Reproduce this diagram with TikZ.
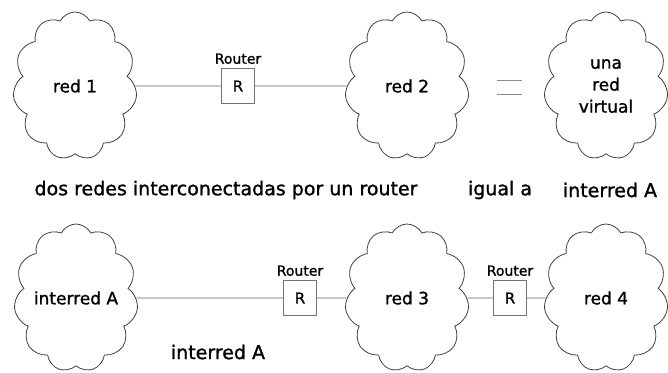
\documentclass[tikz,border=0pt]{standalone}
\usepackage{fontspec}
\setmainfont[FakeBold=1.2]{DejaVu Sans}
\usetikzlibrary{shapes.symbols,positioning}
\begin{document}
\begin{tikzpicture}[x=1pt,y=-1pt,
	red/.style={draw=black!75, line width=0.8pt, cloud, cloud puffs=11, cloud puff arc=125,
		cloud ignores aspect, minimum width=124pt, minimum height=148pt, inner sep=0pt,
		font=\fontsize{17}{22}\selectfont, align=center},
	router/.style={draw=black!55, line width=0.8pt, minimum width=33pt, minimum height=35pt,
		inner sep=0pt, font=\fontsize{15}{18}\selectfont},
	etiq/.style={font=\fontsize{14}{17}\selectfont, inner sep=1pt},
	texto/.style={font=\fontsize{19}{22}\selectfont},
	enlace/.style={draw=black!60, line width=0.8pt}
	]
	\useasboundingbox (0,0) rectangle (668,372);
	% fila de arriba
	\node [red] (red1) at (75,86) {red 1};
	\node [router] (r1) at (238,86) {R};
	\node [etiq, above=3pt of r1] (et1) {Router};
	\node [red] (red2) at (407,86) {red 2};
	\node [red] (virt) at (606,86) {una\\red\\virtual};
	\draw [enlace] (red1) -- (r1) -- (red2);
	\draw [black!45, line width=0.8pt] (497,80) -- (522,80) (497,94) -- (522,94);
	\node [texto] (dos) at (226,190) {dos redes interconectadas por un router};
	\node [texto] (igual) at (500,190) {igual a};
	\node [texto] (inter) at (610,190) {interred A};
	% fila de abajo
	\node [red] (intA) at (76,298) {interred A};
	\node [router] (r2) at (300,298) {R};
	\node [etiq, above=3pt of r2] (et2) {Router};
	\node [red] (red3) at (407,298) {red 3};
	\node [router] (r3) at (510,298) {R};
	\node [etiq, above=3pt of r3] (et3) {Router};
	\node [red] (red4) at (606,298) {red 4};
	\draw [enlace] (intA) -- (r2) -- (red3) -- (r3) -- (red4);
	\node [texto] (intB) at (218,352) {interred A};
\end{tikzpicture}
\end{document}
